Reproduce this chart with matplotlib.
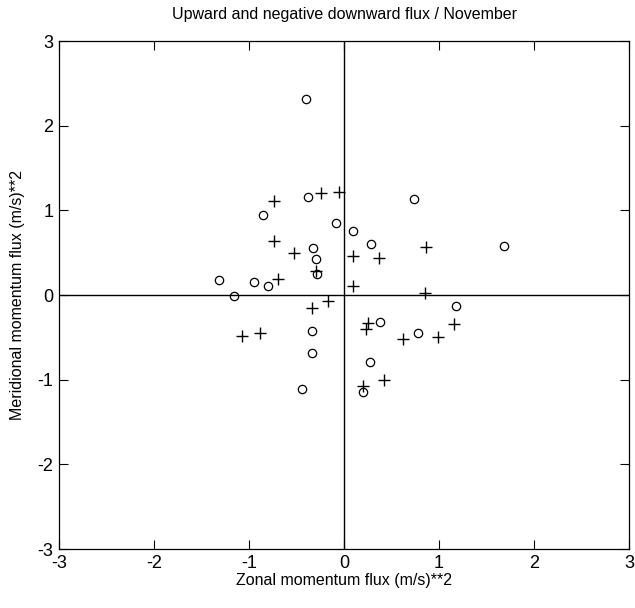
import numpy as np
import matplotlib.pyplot as plt

plt.rcParams['font.family'] = ['Liberation Sans', 'DejaVu Sans']
plt.rcParams['axes.unicode_minus'] = False

# upward flux (circles)
up_x = [-0.40, -0.38, -0.85, -0.08, 0.09, 0.74, 0.28, -0.33, -0.30, -0.28,
        -1.32, -0.95, -0.80, -1.16, -0.34, -0.34, -0.44, 0.38, 0.78, 0.27,
        0.20, 1.68, 1.18]
up_y = [2.31, 1.16, 0.94, 0.85, 0.76, 1.13, 0.60, 0.55, 0.42, 0.25,
        0.18, 0.15, 0.11, -0.01, -0.43, -0.68, -1.11, -0.32, -0.45, -0.79,
        -1.15, 0.58, -0.13]

# negative downward flux (pluses)
dn_x = [-0.74, -0.24, -0.05, -0.74, -0.53, 0.09, 0.37, 0.86, -0.70, -0.30,
        0.09, 0.85, -0.17, -0.34, -1.07, -0.88, 0.25, 0.23, 0.62, 0.99,
        0.42, 0.20, 1.16]
dn_y = [1.11, 1.20, 1.22, 0.64, 0.50, 0.46, 0.44, 0.57, 0.19, 0.28,
        0.11, 0.02, -0.07, -0.15, -0.48, -0.45, -0.33, -0.40, -0.52, -0.50,
        -1.00, -1.08, -0.34]

fig = plt.figure(figsize=(6.35, 6.08), dpi=100)
ax = fig.add_axes([59/635, 59/608, 570/635, 508/608])

ax.axhline(0, color='black', lw=1.0, zorder=1)
ax.axvline(0, color='black', lw=1.0, zorder=1)
ax.plot(up_x, up_y, 'o', mfc='none', mec='black', ms=6, mew=0.9, zorder=2)
ax.plot(dn_x, dn_y, '+', color='black', ms=8, mew=1.0, zorder=2)

ax.set_xlim(-3, 3)
ax.set_ylim(-3, 3)
ax.set_xticks(np.arange(-3, 4, 1))
ax.set_yticks(np.arange(-3, 4, 1))
ax.tick_params(direction='in', top=True, right=True, length=6.5, width=0.8,
               labelsize=13, pad=4)
for s in ax.spines.values():
    s.set_linewidth(0.9)

ax.set_title('Upward and negative downward flux / November', fontsize=11.5, pad=16)
ax.set_xlabel('Zonal momentum flux (m/s)**2', fontsize=11.5, labelpad=1)
ax.set_ylabel('Meridional momentum flux (m/s)**2', fontsize=11.5, labelpad=9)

fig.savefig('out.png', dpi=100)
